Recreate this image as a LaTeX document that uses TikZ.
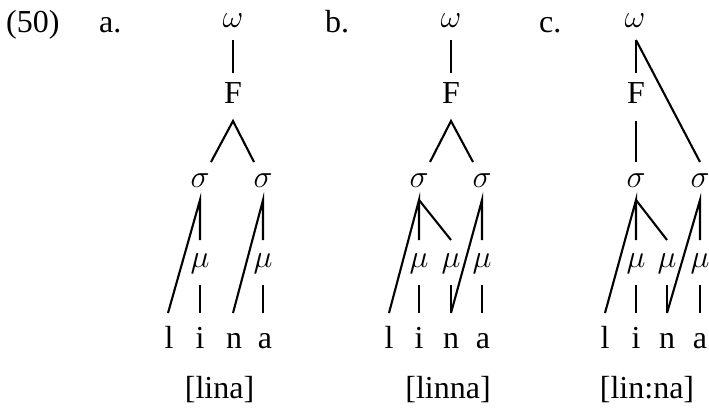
\RequirePackage{fix-cm}
\documentclass[tikz,border=0pt]{standalone}
\usepackage{fontspec}
\setmainfont{Liberation Serif}
\begin{document}
\begin{tikzpicture}[x=1pt,y=-1pt,
  lab/.style={anchor=base,inner sep=0pt,font=\fontsize{32}{38}\selectfont},
  hdr/.style={anchor=base west,inner sep=0pt,font=\fontsize{32}{38}\selectfont},
  edge/.style={line width=2.1pt}]
\useasboundingbox (0,0) rectangle (709,408);

% headers
\node[hdr] (ex) at (6,32) {(50)};
\node[hdr] (ha) at (99,32) {a.};
\node[hdr] (hb) at (325,32) {b.};
\node[hdr] (hc) at (539,32) {c.};

% ---------- tree a ----------
\node[lab] (wa) at (233,27) {$\omega$};
\node[lab] (Fa) at (233,103) {F};
\node[lab] (sa1) at (200,187) {$\sigma$};
\node[lab] (sa2) at (263,187) {$\sigma$};
\node[lab] (ma1) at (200,267) {$\mu$};
\node[lab] (ma2) at (263,267) {$\mu$};
\node[lab] (la) at (169,348) {l};
\node[lab] (ia) at (200,348) {i};
\node[lab] (na) at (234,348) {n};
\node[lab] (aa) at (265,348) {a};
\node[lab] (ga) at (219.5,398) {[lina]};

\draw[edge] ([yshift=-13pt]wa.base) -- ([yshift=30pt]Fa.base);
\draw[edge] ([xshift=11pt,yshift=25pt]sa1.base) -- ([yshift=-18pt]Fa.base) -- ([xshift=-9pt,yshift=25pt]sa2.base);
\draw[edge] ([xshift=-1pt,yshift=35pt]la.base) -- ([yshift=-13pt]sa1.base) -- ([yshift=27pt]ma1.base);
\draw[edge] ([yshift=-18pt]ma1.base) -- ([yshift=35pt]ia.base);
\draw[edge] ([xshift=-1pt,yshift=35pt]na.base) -- ([yshift=-13pt]sa2.base) -- ([yshift=27pt]ma2.base);
\draw[edge] ([yshift=-18pt]ma2.base) -- ([xshift=-2pt,yshift=35pt]aa.base);

% ---------- tree b ----------
\node[lab] (wb) at (451,27) {$\omega$};
\node[lab] (Fb) at (451,103) {F};
\node[lab] (sb1) at (419,187) {$\sigma$};
\node[lab] (sb2) at (482,187) {$\sigma$};
\node[lab] (mb1) at (419,267) {$\mu$};
\node[lab] (mb2) at (451,267) {$\mu$};
\node[lab] (mb3) at (482,267) {$\mu$};
\node[lab] (lb) at (389,348) {l};
\node[lab] (ib) at (419,348) {i};
\node[lab] (nb) at (451,348) {n};
\node[lab] (ab) at (483,348) {a};
\node[lab] (gb) at (448,398) {[linna]};

\draw[edge] ([yshift=-13pt]wb.base) -- ([yshift=30pt]Fb.base);
\draw[edge] ([xshift=11pt,yshift=25pt]sb1.base) -- ([yshift=-18pt]Fb.base) -- ([xshift=-9pt,yshift=25pt]sb2.base);
\draw[edge] ([yshift=35pt]lb.base) -- ([yshift=-13pt]sb1.base) -- ([yshift=27pt]mb1.base);
\draw[edge] ([yshift=-13pt]sb1.base) -- ([yshift=27pt]mb2.base);
\draw[edge] ([yshift=-18pt]mb1.base) -- ([yshift=35pt]ib.base);
\draw[edge] ([yshift=-18pt]mb2.base) -- ([yshift=35pt]nb.base);
\draw[edge] ([yshift=35pt]nb.base) -- ([yshift=-13pt]sb2.base) -- ([yshift=27pt]mb3.base);
\draw[edge] ([yshift=-18pt]mb3.base) -- ([xshift=-1pt,yshift=35pt]ab.base);

% ---------- tree c ----------
\node[lab] (wc) at (635,27) {$\omega$};
\node[lab] (Fc) at (636,103) {F};
\node[lab] (sc1) at (636,187) {$\sigma$};
\node[lab] (sc2) at (700,187) {$\sigma$};
\node[lab] (mc1) at (636,267) {$\mu$};
\node[lab] (mc2) at (667,267) {$\mu$};
\node[lab] (mc3) at (700,267) {$\mu$};
\node[lab] (lc) at (605,348) {l};
\node[lab] (ic) at (636,348) {i};
\node[lab] (nc) at (667,348) {n};
\node[lab] (ac) at (700,348) {a};
\node[lab] (gc) at (647,398) {[lin:na]};

\draw[edge] ([xshift=1pt,yshift=-13pt]wc.base) -- ([yshift=30pt]Fc.base);
\draw[edge] ([xshift=1pt,yshift=-13pt]wc.base) -- ([yshift=25pt]sc2.base);
\draw[edge] ([yshift=-18pt]Fc.base) -- ([yshift=25pt]sc1.base);
\draw[edge] ([yshift=35pt]lc.base) -- ([yshift=-13pt]sc1.base) -- ([yshift=27pt]mc1.base);
\draw[edge] ([yshift=-13pt]sc1.base) -- ([yshift=27pt]mc2.base);
\draw[edge] ([yshift=-18pt]mc1.base) -- ([yshift=35pt]ic.base);
\draw[edge] ([yshift=-18pt]mc2.base) -- ([yshift=35pt]nc.base);
\draw[edge] ([yshift=35pt]nc.base) -- ([yshift=-13pt]sc2.base) -- ([yshift=27pt]mc3.base);
\draw[edge] ([yshift=-18pt]mc3.base) -- ([yshift=35pt]ac.base);
\end{tikzpicture}
\end{document}
